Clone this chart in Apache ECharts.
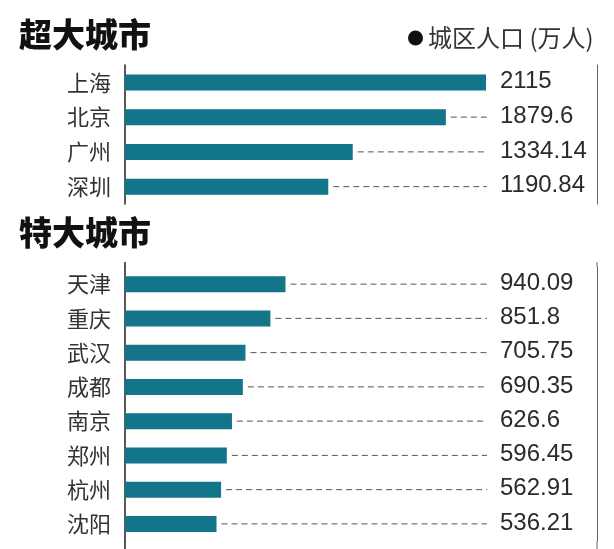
<!DOCTYPE html>
<html><head><meta charset="utf-8">
<script src="https://cdn.jsdelivr.net/npm/echarts@6/dist/echarts.min.js"></script>
<style>html,body{margin:0;padding:0;background:#fff}#c{width:614px;height:549px}</style>
</head><body><div id="c"></div>
<script>
const groupTitles = ['超大城市', '特大城市'];
const legendName = '城区人口 (万人)';
const citiesA = ['上海', '北京', '广州', '深圳'];
const valuesA = [2115, 1879.6, 1334.14, 1190.84];
const labelsA = ['2115', '1879.6', '1334.14', '1190.84'];
const citiesB = ['天津', '重庆', '武汉', '成都', '南京', '郑州', '杭州', '沈阳'];
const valuesB = [940.09, 851.8, 705.75, 690.35, 626.6, 596.45, 562.91, 536.21];
const labelsB = ['940.09', '851.8', '705.75', '690.35', '626.6', '596.45', '562.91', '536.21'];

const CJK = '"Noto Sans CJK SC", sans-serif';
const NUM = '"Liberation Sans", Arial, sans-serif';
const BAR = '#13758a';

const chart = echarts.init(document.getElementById('c'));

function dashSeries(idx, labels) {
  return {
    type: 'custom', xAxisIndex: idx, yAxisIndex: idx * 2, silent: true,
    encode: { x: 0, y: 1 },
    data: (idx === 0 ? valuesA : valuesB).map((v, i) => [v, i]),
    renderItem: function (params, api) {
      const cs = params.coordSys;
      const p = api.coord([api.value(0), api.value(1)]);
      const endX = cs.x + 362;
      const children = [];
      if (p[0] + 6 < endX) {
        children.push({ type: 'line', shape: { x1: p[0] + 5, y1: p[1], x2: endX, y2: p[1] },
          style: { stroke: '#555', lineWidth: 1, lineDash: [6, 4] } });
      }
      children.push({ type: 'text', style: { text: labels[params.dataIndex], x: cs.x + 375, y: p[1] - 1,
        textVerticalAlign: 'middle', verticalAlign: 'middle', fill: '#2b2b2b', font: '24px ' + NUM } });
      return { type: 'group', children: children };
    }
  };
}

function yAxes(gi, cats) {
  return [
    { type: 'category', gridIndex: gi, data: cats, inverse: true,
      axisLine: { show: true, lineStyle: { color: '#222', width: 1.5 } }, axisTick: { show: false },
      axisLabel: { color: '#333', fontSize: 22, fontFamily: CJK, margin: 14 } },
    { type: 'category', gridIndex: gi, data: cats, inverse: true, position: 'right',
      axisLine: { show: true, lineStyle: { color: '#666', width: 1 } }, axisTick: { show: false },
      axisLabel: { show: false } }
  ];
}

chart.setOption({
  backgroundColor: '#fff',
  animation: false,
  title: [
    { text: groupTitles[0], left: 14, top: 13, textStyle: { fontSize: 33, fontWeight: 900, color: '#111', fontFamily: CJK } },
    { text: groupTitles[1], left: 14, top: 211, textStyle: { fontSize: 33, fontWeight: 900, color: '#111', fontFamily: CJK } }
  ],
  legend: {
    data: [legendName], left: 403, top: 21, icon: 'circle', itemWidth: 15, itemHeight: 15, itemGap: 8,
    itemStyle: { color: '#111' },
    textStyle: { fontSize: 24, color: '#333', fontFamily: CJK }
  },
  grid: [
    { left: 125, right: 17, top: 65, height: 139 },
    { left: 125, right: 17, top: 267, height: 274 }
  ],
  graphic: [
    { type: 'line', shape: { x1: 125, y1: 262, x2: 125, y2: 267 }, style: { stroke: '#222', lineWidth: 1.5 } },
    { type: 'line', shape: { x1: 125, y1: 541, x2: 125, y2: 549 }, style: { stroke: '#222', lineWidth: 1.5 } },
    { type: 'line', shape: { x1: 597, y1: 262, x2: 597, y2: 267 }, style: { stroke: '#666', lineWidth: 1 } },
    { type: 'line', shape: { x1: 597, y1: 541, x2: 597, y2: 549 }, style: { stroke: '#666', lineWidth: 1 } }
  ],
  xAxis: [
    { type: 'value', gridIndex: 0, min: 0, max: 2765, show: false },
    { type: 'value', gridIndex: 1, min: 0, max: 2765, show: false }
  ],
  yAxis: yAxes(0, citiesA).concat(yAxes(1, citiesB)),
  series: [
    { name: legendName, type: 'bar', xAxisIndex: 0, yAxisIndex: 0, data: valuesA, barWidth: 16,
      itemStyle: { color: BAR } },
    { name: legendName, type: 'bar', xAxisIndex: 1, yAxisIndex: 2, data: valuesB, barWidth: 16,
      itemStyle: { color: BAR } },
    dashSeries(0, labelsA),
    dashSeries(1, labelsB)
  ]
});
</script></body></html>
